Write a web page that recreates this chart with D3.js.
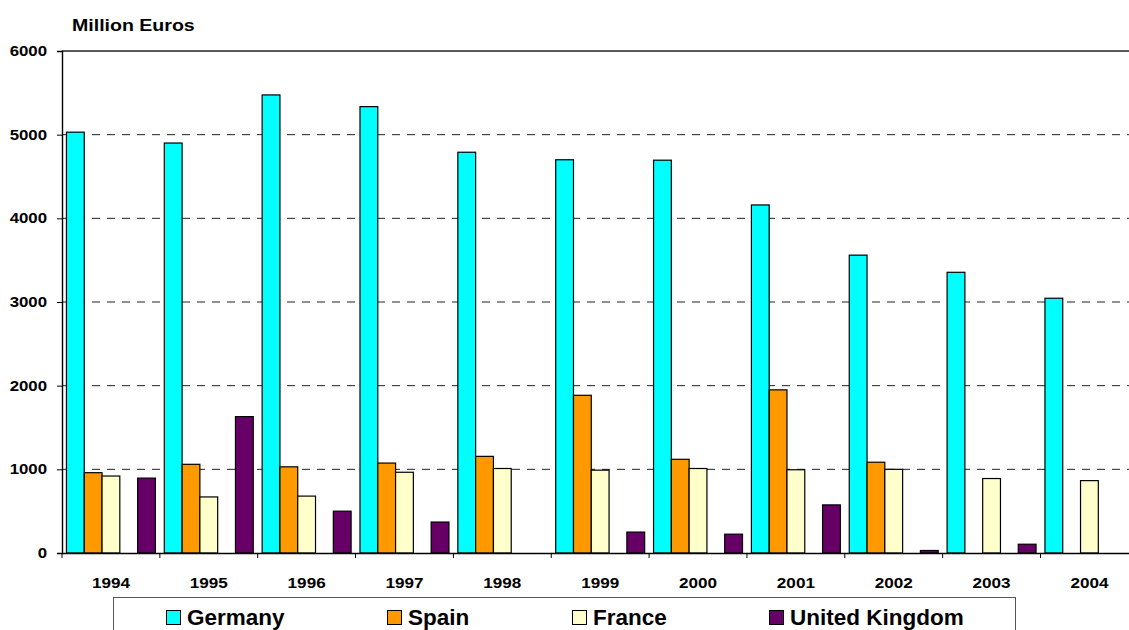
<!DOCTYPE html>
<html>
<head>
<meta charset="utf-8">
<script src="https://cdn.jsdelivr.net/npm/d3@7"></script>
<style>
  html, body { margin: 0; padding: 0; background: #fff; }
  svg { display: block; font-family: "Liberation Sans", Arial, sans-serif; }
</style>
</head>
<body>
<svg id="chart" width="1129" height="630"></svg>
<script>
// Yearly amounts in million euros
const years = ["1994", "1995", "1996", "1997", "1998", "1999", "2000", "2001", "2002", "2003", "2004"];
const seriesNames = ["Germany", "Spain", "France", "United Kingdom"];
const germany = [5030, 4900, 5475, 5335, 4790, 4700, 4695, 4160, 3560, 3355, 3045];
const spain   = [960, 1060, 1030, 1075, 1155, 1885, 1120, 1950, 1085, null, null];
const france  = [920, 670, 680, 965, 1010, 990, 1010, 995, 1000, 890, 865];
const uk      = [895, 1630, 500, 370, null, 250, 225, 575, 30, 105, null];
const yTicks  = [0, 1000, 2000, 3000, 4000, 5000, 6000];
const seriesColors = ["#00FFFF", "#FF9900", "#FFFFCC", "#660066"];

const seriesValues = [germany, spain, france, uk];
// Each year group keeps five equal slots; the fourth one stays empty.
const slots = ["Germany", "Spain", "France", "(none)", "United Kingdom"];

const svg = d3.select("#chart");
const plotLeft = 62, plotTop = 51, plotBottom = 553;
const step = 97.85;
const plotRight = plotLeft + years.length * step;

const x0 = d3.scaleBand().domain(years).range([plotLeft, plotRight]).padding(0);
const x1 = d3.scaleBand().domain(slots).range([0, x0.bandwidth()]).paddingInner(0).paddingOuter(0.25);
const y = d3.scaleLinear().domain([0, 6000]).range([plotBottom, plotTop]);

// Stretch text horizontally by factor k
function stretch(sel, k) {
  sel.each(function () {
    const len = this.getComputedTextLength();
    d3.select(this).attr("textLength", len * k).attr("lengthAdjust", "spacingAndGlyphs");
  });
}

// Dashed gridlines
svg.append("g")
  .selectAll("line")
  .data(yTicks.filter(v => v > 0 && v < 6000))
  .join("line")
  .attr("x1", plotLeft).attr("x2", plotRight)
  .attr("y1", d => y(d)).attr("y2", d => y(d))
  .attr("stroke", "#222")
  .attr("stroke-width", 1)
  .attr("stroke-dasharray", "8,7");

// Plot area top border
svg.append("line")
  .attr("x1", plotLeft).attr("x2", plotRight)
  .attr("y1", y(6000)).attr("y2", y(6000))
  .attr("stroke", "#222").attr("stroke-width", 1.6);

// Bars
const barData = [];
years.forEach((yr, i) => {
  seriesNames.forEach((name, s) => {
    const v = seriesValues[s][i];
    if (v != null) barData.push({ year: yr, name, value: v, color: seriesColors[s] });
  });
});

svg.append("g")
  .selectAll("rect")
  .data(barData)
  .join("rect")
  .attr("x", d => x0(d.year) + x1(d.name))
  .attr("width", x1.bandwidth())
  .attr("y", d => y(d.value))
  .attr("height", d => y(0) - y(d.value))
  .attr("fill", d => d.color)
  .attr("stroke", "#000")
  .attr("stroke-width", 1.2);

// Y axis
const yAxis = svg.append("g")
  .attr("transform", `translate(${plotLeft},0)`)
  .call(d3.axisLeft(y).tickValues(yTicks).tickFormat(d3.format("d")).tickSize(5).tickPadding(10));
yAxis.select(".domain").attr("stroke", "#000").attr("stroke-width", 1.4);
yAxis.selectAll(".tick line").attr("stroke", "#000");
yAxis.selectAll("text")
  .attr("font-size", 14).attr("font-weight", "bold").attr("fill", "#000")
  .call(stretch, 1.2);

// X axis with ticks on group boundaries
const xAxis = svg.append("g")
  .attr("transform", `translate(0,${plotBottom})`)
  .call(d3.axisBottom(x0).tickSize(0).tickPadding(24));
xAxis.select(".domain").attr("stroke", "#000").attr("stroke-width", 1.4);
xAxis.selectAll("text")
  .attr("font-size", 15).attr("font-weight", "bold").attr("fill", "#000")
  .call(stretch, 1.14);
xAxis.append("g")
  .selectAll("line")
  .data(years.map(d => x0(d)))
  .join("line")
  .attr("x1", d => d).attr("x2", d => d)
  .attr("y1", 0).attr("y2", 5)
  .attr("stroke", "#000");

// Axis title
svg.append("text")
  .attr("x", 72).attr("y", 31)
  .attr("font-size", 17).attr("font-weight", "bold").attr("fill", "#000")
  .text("Million Euros")
  .call(stretch, 1.15);

// Legend
const legend = svg.append("g");
legend.append("rect")
  .attr("x", 113.5).attr("y", 597.5)
  .attr("width", 902).attr("height", 60)
  .attr("fill", "#fff").attr("stroke", "#555").attr("stroke-width", 1);
const legendX = [166, 387, 572, 769];
seriesNames.forEach((name, i) => {
  const g = legend.append("g").attr("transform", `translate(${legendX[i]},610)`);
  g.append("rect")
    .attr("x", 0.5).attr("y", 0.5).attr("width", 14).attr("height", 14)
    .attr("fill", seriesColors[i]).attr("stroke", "#000").attr("stroke-width", 1);
  g.append("text")
    .attr("x", 21).attr("y", 15)
    .attr("font-size", 22.5).attr("font-weight", "bold").attr("fill", "#000")
    .text(name);
});
</script>
</body>
</html>
